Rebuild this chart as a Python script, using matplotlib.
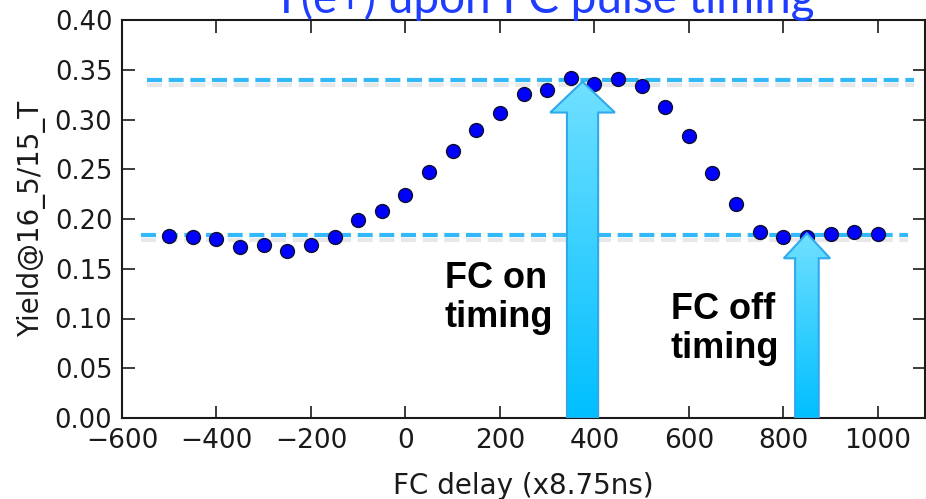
import matplotlib
matplotlib.use("Agg")
import matplotlib.pyplot as plt
import matplotlib.patheffects as pe
from matplotlib.patches import Polygon
from matplotlib.colors import LinearSegmentedColormap
import numpy as np

# Dados
delay = [-500, -450, -400, -350, -300, -250, -200, -150, -100, -50,
         0, 50, 100, 150, 200, 250, 300, 350, 400, 450,
         500, 550, 600, 650, 700, 750, 800, 850, 900, 950, 1000]
yield_vals = [0.183, 0.182, 0.180, 0.172, 0.174, 0.168, 0.174, 0.182, 0.199, 0.208,
              0.224, 0.247, 0.268, 0.289, 0.307, 0.326, 0.330, 0.342, 0.336, 0.341,
              0.334, 0.313, 0.283, 0.246, 0.215, 0.187, 0.182, 0.182, 0.185, 0.187, 0.185]

# níveis de referência (linhas tracejadas): (y, x inicial, x final)
level_on = (0.340, -548, 1077)
level_off = (0.184, -560, 1065)

# setas: (x central, ponta, base da cabeça)
arrow_on = (375, 0.338, 0.307)
arrow_off = (850, 0.1856, 0.1605)

labels_on = "FC on\ntiming"
labels_off = "FC off\ntiming"

xticks = [-600, -400, -200, 0, 200, 400, 600, 800, 1000]
yticks = [0.00, 0.05, 0.10, 0.15, 0.20, 0.25, 0.30, 0.35, 0.40]

fig = plt.figure(figsize=(9.26, 4.99), dpi=100)
ax = fig.add_axes([122 / 926, 1 - 418 / 499, 803 / 926, 398 / 499])

line_color = '#34b9f8'
for (y, x0, x1) in [level_on, level_off]:
    ax.plot([x0, x1], [y, y], color=line_color, lw=3, linestyle=(0, (3.6, 1.6)),
            zorder=2,
            path_effects=[pe.SimpleLineShadow(offset=(0, -4), shadow_color='gray', alpha=0.18),
                          pe.Normal()])

ax.plot(delay, yield_vals, 'o', color='#0000ff', markersize=10,
        markeredgecolor='#101030', markeredgewidth=1, zorder=3)

grad_cmap = LinearSegmentedColormap.from_list('seta', ['#00bfff', '#70e0ff'])


def draw_arrow(xc, tip, head_base, shaft_w, head_w):
    verts = [(xc - shaft_w / 2, 0.0), (xc - shaft_w / 2, head_base),
             (xc - head_w / 2, head_base), (xc, tip),
             (xc + head_w / 2, head_base), (xc + shaft_w / 2, head_base),
             (xc + shaft_w / 2, 0.0)]
    poly = Polygon(verts, closed=True, facecolor='none', edgecolor='#30a8ec',
                   lw=1.5, zorder=5)
    ax.add_patch(poly)
    grad = np.linspace(0, 1, 256).reshape(-1, 1)
    im = ax.imshow(grad, cmap=grad_cmap, origin='lower', aspect='auto',
                   extent=[xc - head_w / 2, xc + head_w / 2, 0, tip], zorder=4)
    im.set_clip_path(poly)


draw_arrow(arrow_on[0], arrow_on[1], arrow_on[2], 66, 137)
draw_arrow(arrow_off[0], arrow_off[1], arrow_off[2], 50, 98)

# rótulos das setas (alinhados pela linha de base da última linha)
ax.text(83, 0.0915, labels_on, fontsize=26, fontweight='bold',
        family='Liberation Sans', ha='left', va='baseline', linespacing=1.15)
ax.text(562, 0.060, labels_off, fontsize=26, fontweight='bold',
        family='Liberation Sans', ha='left', va='baseline', linespacing=1.15)

ax.set_xlim(-600, 1100)
ax.set_ylim(0, 0.40)
ax.set_xticks(xticks)
ax.set_yticks(yticks)
ax.set_xticklabels([f'\u2212{abs(v)}' if v < 0 else str(v) for v in xticks])
ax.set_yticklabels([f'{v:.2f}' for v in yticks])
ax.tick_params(direction='in', length=9, width=1.2, top=True,
               right=True, pad=7, colors='#1a1a1a')
ax.tick_params(axis='x', labelsize=19)
ax.tick_params(axis='y', labelsize=18.5)
for sp in ax.spines.values():
    sp.set_linewidth(1.5)
    sp.set_color('#1a1a1a')

ax.set_xlabel('FC delay (x8.75ns)', fontsize=20, labelpad=13, color='#1a1a1a')
ax.set_ylabel('Yield@16_5/15_T', fontsize=20, labelpad=6, color='#1a1a1a')

fig.text(543 / 926, 1 - 13 / 499, 'Y(e+) upon FC pulse timing', fontsize=33,
         family='Lato', color='#1f3dff', ha='center', va='baseline')

fig.savefig('out.png', dpi=100)
